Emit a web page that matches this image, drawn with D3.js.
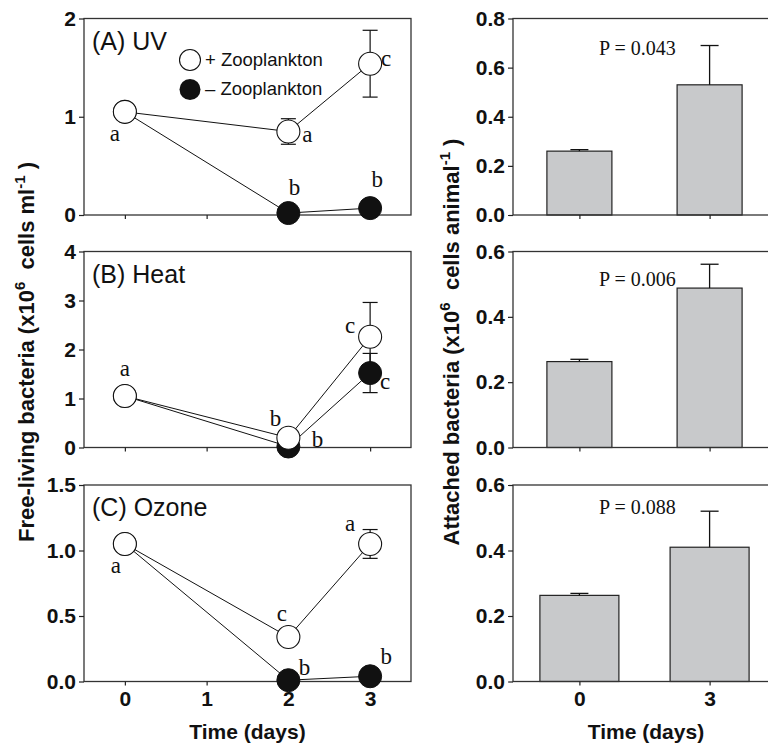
<!DOCTYPE html>
<html>
<head>
<meta charset="utf-8">
<script src="https://cdn.jsdelivr.net/npm/d3@7"></script>
<style>
  body { margin: 0; background: #fff; }
  svg { display: block; }
  .tick text { font-family: "Liberation Sans", Arial, sans-serif; font-weight: bold; font-size: 21px; fill: #111; }
</style>
</head>
<body>
<script>
// sampling days and axis ticks
const dayTicks = [0, 1, 2, 3];
const sampleDays = [0, 2, 3];
const barDays = ["0", "3"];

// free-living bacteria, + zooplankton (open) and - zooplankton (filled)
const uvPlus = [1.05, 0.85, 1.54];
const uvPlusErr = [0, 0.13, 0.34];
const uvMinus = [1.05, 0.02, 0.07];
const uvMinusErr = [0, 0, 0];
const heatPlus = [1.05, 0.20, 2.26];
const heatPlusErr = [0, 0, 0.70];
const heatMinus = [1.05, 0.02, 1.52];
const heatMinusErr = [0, 0, 0.40];
const ozonePlus = [1.05, 0.34, 1.05];
const ozonePlusErr = [0, 0, 0.11];
const ozoneMinus = [1.05, 0.01, 0.04];
const ozoneMinusErr = [0, 0, 0];

// significance letters
const uvPlusLetters = ["a", "a", "c"];
const uvMinusLetters = ["", "b", "b"];
const heatPlusLetters = ["a", "b", "c"];
const heatMinusLetters = ["", "b", "c"];
const ozonePlusLetters = ["a", "c", "a"];
const ozoneMinusLetters = ["", "b", "b"];

// attached bacteria
const uvAttached = [0.26, 0.53];
const uvAttachedErr = [0.006, 0.16];
const heatAttached = [0.263, 0.488];
const heatAttachedErr = [0.007, 0.073];
const ozoneAttached = [0.263, 0.41];
const ozoneAttachedErr = [0.006, 0.11];
const pValues = ["P = 0.043", "P = 0.006", "P = 0.088"];

const leftTicks = [[0, 1, 2], [0, 1, 2, 3, 4], [0, 0.5, 1, 1.5]];
const rightTicks = [[0, 0.2, 0.4, 0.6, 0.8], [0, 0.2, 0.4, 0.6], [0, 0.2, 0.4, 0.6]];

const sans = '"Liberation Sans", Arial, sans-serif';
const serif = '"Liberation Serif", "Times New Roman", serif';

const svg = d3.select("body").append("svg")
  .attr("width", 768)
  .attr("height", 745);

const rows = [
  { top: 18.5, bottom: 215 },
  { top: 251.5, bottom: 447.5 },
  { top: 485, bottom: 681.5 }
];

const xLeft = d3.scaleLinear().domain([-0.5, 3.5]).range([84, 411]);
const xRight = d3.scalePoint().domain(barDays).range([513, 776]).padding(0.51);

function frame(x0, x1, row) {
  svg.append("rect")
    .attr("x", x0).attr("y", row.top)
    .attr("width", x1 - x0).attr("height", row.bottom - row.top)
    .attr("fill", "none").attr("stroke", "#333").attr("stroke-width", 1.3);
}

function styleAxis(g) {
  g.select(".domain").remove();
  g.selectAll(".tick line").attr("stroke", "#222").attr("stroke-width", 1.2);
}

// letter offsets from the point (dx, baseline dy), layout only
const plusOffsets = [
  [[-10, 29], [19, 11], [16, 2]],
  [[0, -20], [-13, -11.5], [-20, -4]],
  [[-9, 29], [-6.5, -15.6], [-20, -13]]
];
const minusOffsets = [
  [null, [6, -18], [7, -21]],
  [null, [29, 0], [15, 16]],
  [null, [16, -5], [16, -12.5]]
];

function linePanel(i, label, plus, plusErr, minus, minusErr, plusLet, minusLet, fmt) {
  const row = rows[i];
  const ticks = leftTicks[i];
  const y = d3.scaleLinear().domain([0, d3.max(ticks)]).range([row.bottom, row.top]);

  frame(84, 411, row);

  svg.append("g")
    .attr("transform", `translate(84,0)`)
    .call(d3.axisLeft(y).tickValues(ticks).tickFormat(d3.format(fmt)).tickSize(5).tickPadding(3))
    .call(styleAxis);

  svg.append("g")
    .attr("transform", `translate(0,${row.bottom})`)
    .call(d3.axisBottom(xLeft).tickValues(dayTicks).tickSize(4).tickPadding(6)
      .tickFormat(i === 2 ? d3.format("d") : ""))
    .call(styleAxis);

  const line = d3.line().x((d, k) => xLeft(sampleDays[k])).y(d => y(d));
  [minus, plus].forEach(s => {
    svg.append("path").datum(s)
      .attr("d", line).attr("fill", "none")
      .attr("stroke", "#111").attr("stroke-width", 1);
  });

  [[plus, plusErr], [minus, minusErr]].forEach(([s, e]) => {
    s.forEach((v, k) => {
      if (!e[k]) return;
      const cx = xLeft(sampleDays[k]);
      const g = svg.append("g").attr("stroke", "#111").attr("stroke-width", 1.2);
      g.append("line").attr("x1", cx).attr("x2", cx).attr("y1", y(v + e[k])).attr("y2", y(v - e[k]));
      g.append("line").attr("x1", cx - 7.5).attr("x2", cx + 7.5).attr("y1", y(v + e[k])).attr("y2", y(v + e[k]));
      g.append("line").attr("x1", cx - 7.5).attr("x2", cx + 7.5).attr("y1", y(v - e[k])).attr("y2", y(v - e[k]));
    });
  });

  svg.append("g").selectAll("circle").data(minus).enter().append("circle")
    .attr("cx", (d, k) => xLeft(sampleDays[k])).attr("cy", d => y(d))
    .attr("r", 11.5).attr("fill", "#111").attr("stroke", "#111").attr("stroke-width", 1);
  svg.append("g").selectAll("circle").data(plus).enter().append("circle")
    .attr("cx", (d, k) => xLeft(sampleDays[k])).attr("cy", d => y(d))
    .attr("r", 11.5).attr("fill", "#fff").attr("stroke", "#111").attr("stroke-width", 1.1);

  [[plus, plusLet, plusOffsets[i]], [minus, minusLet, minusOffsets[i]]].forEach(([s, lets, offs]) => {
    s.forEach((v, k) => {
      if (!lets[k]) return;
      svg.append("text")
        .attr("x", xLeft(sampleDays[k]) + offs[k][0])
        .attr("y", y(v) + offs[k][1])
        .attr("text-anchor", "middle")
        .style("font-family", serif).style("font-size", "23px").attr("fill", "#111")
        .text(lets[k]);
    });
  });

  svg.append("text")
    .attr("x", 92).attr("y", row.top + 31)
    .style("font-family", sans).style("font-size", "25px").attr("fill", "#111")
    .text(label);
}

function barPanel(i, vals, errs, pText, barWidth, pDy) {
  const row = rows[i];
  const ticks = rightTicks[i];
  const y = d3.scaleLinear().domain([0, d3.max(ticks)]).range([row.bottom, row.top]);

  svg.selectAll(null).data(vals).enter().append("rect")
    .attr("x", (d, k) => xRight(barDays[k]) - barWidth / 2)
    .attr("y", d => y(d))
    .attr("width", barWidth)
    .attr("height", d => row.bottom - y(d))
    .attr("fill", "#c8c9cb").attr("stroke", "#222").attr("stroke-width", 1.2);

  vals.forEach((v, k) => {
    const cx = xRight(barDays[k]);
    const g = svg.append("g").attr("stroke", "#111").attr("stroke-width", 1.3);
    g.append("line").attr("x1", cx).attr("x2", cx).attr("y1", y(v)).attr("y2", y(v + errs[k]));
    g.append("line").attr("x1", cx - 9).attr("x2", cx + 9).attr("y1", y(v + errs[k])).attr("y2", y(v + errs[k]));
  });

  frame(513, 776, row);

  svg.append("g")
    .attr("transform", `translate(513,0)`)
    .call(d3.axisLeft(y).tickValues(ticks).tickFormat(d3.format(".1f")).tickSize(5).tickPadding(3))
    .call(styleAxis);

  svg.append("g")
    .attr("transform", `translate(0,${row.bottom})`)
    .call(d3.axisBottom(xRight).tickSize(4).tickPadding(6).tickFormat(i === 2 ? (d => d) : ""))
    .call(styleAxis);

  svg.append("text")
    .attr("x", 599).attr("y", row.top + pDy)
    .style("font-family", serif).style("font-size", "20px").attr("fill", "#111")
    .text(pText);
}

linePanel(0, "(A) UV", uvPlus, uvPlusErr, uvMinus, uvMinusErr, uvPlusLetters, uvMinusLetters, "d");
linePanel(1, "(B) Heat", heatPlus, heatPlusErr, heatMinus, heatMinusErr, heatPlusLetters, heatMinusLetters, "d");
linePanel(2, "(C) Ozone", ozonePlus, ozonePlusErr, ozoneMinus, ozoneMinusErr, ozonePlusLetters, ozoneMinusLetters, ".1f");

barPanel(0, uvAttached, uvAttachedErr, pValues[0], 65, 36);
barPanel(1, heatAttached, heatAttachedErr, pValues[1], 65, 34);
barPanel(2, ozoneAttached, ozoneAttachedErr, pValues[2], 79, 29);

// legend in panel A
const legend = svg.append("g").attr("transform", "translate(190,60)");
legend.append("circle").attr("r", 10.5).attr("fill", "#fff").attr("stroke", "#111").attr("stroke-width", 1.1);
legend.append("circle").attr("cy", 29.5).attr("r", 10.5).attr("fill", "#111");
legend.append("text").attr("x", 15).attr("y", 5.5)
  .style("font-family", sans).style("font-size", "18.5px").attr("fill", "#111").text("+ Zooplankton");
legend.append("text").attr("x", 15).attr("y", 35)
  .style("font-family", sans).style("font-size", "18.5px").attr("fill", "#111").text("\u2013 Zooplankton");

// axis titles
[247.5, 646].forEach(cx => {
  svg.append("text")
    .attr("x", cx).attr("y", 739)
    .attr("text-anchor", "middle")
    .style("font-family", sans).style("font-weight", "bold").style("font-size", "21px").attr("fill", "#111")
    .text("Time (days)");
});

function yTitle(x, cy, main, unit) {
  const t = svg.append("text")
    .attr("transform", `translate(${x},${cy}) rotate(-90)`)
    .attr("text-anchor", "middle")
    .style("font-family", sans).style("font-weight", "bold").style("font-size", "22px").attr("fill", "#111");
  t.append("tspan").text(main + " (x10");
  t.append("tspan").attr("dy", -9).style("font-size", "15px").text("6");
  t.append("tspan").attr("dy", 9).text("\u00a0 cells " + unit);
  t.append("tspan").attr("dy", -9).style("font-size", "15px").text("-1");
  t.append("tspan").attr("dy", 9).text(" )");
}
yTitle(34, 352, "Free-living bacteria", "ml");
yTitle(459, 342, "Attached bacteria", "animal");
</script>
</body>
</html>
